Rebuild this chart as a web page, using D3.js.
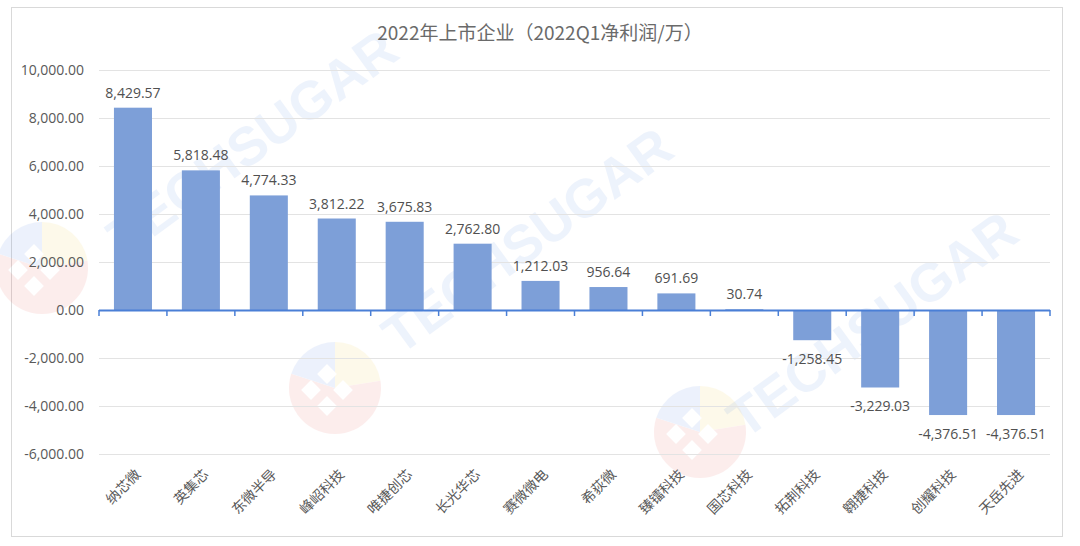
<!DOCTYPE html>
<html><head><meta charset="utf-8">
<script src="https://cdn.jsdelivr.net/npm/d3@7"></script>
<style>
html,body{margin:0;padding:0;background:#fff;}
svg{display:block;}
</style></head>
<body>
<svg id="chart" width="1080" height="546"></svg>
<script>
const title = "2022年上市企业（2022Q1净利润/万）";
const categories = ["纳芯微","英集芯","东微半导","峰岹科技","唯捷创芯","长光华芯","赛微微电","希荻微","臻镭科技","国芯科技","拓荆科技","翱捷科技","创耀科技","天岳先进"];
const values = [8429.57,5818.48,4774.33,3812.22,3675.83,2762.80,1212.03,956.64,691.69,30.74,-1258.45,-3229.03,-4376.51,-4376.51];
const yTicks = [-6000,-4000,-2000,0,2000,4000,6000,8000,10000];
const watermarkText = "TECHSUGAR";

const svg = d3.select("#chart");
const locale = d3.formatLocale({decimal:".",thousands:",",grouping:[3],currency:["",""],minus:"-"});
const fmt = locale.format(",.2f");
const font = "'Open Sans','Noto Sans CJK SC',sans-serif";
const cjk = "'Noto Sans CJK SC','Open Sans',sans-serif";

// chart frame
svg.append("rect").attr("x",11.5).attr("y",7.5).attr("width",1051).attr("height",529)
  .attr("fill","#fff").attr("stroke","#d9d9d9");

const x = d3.scaleBand().domain(categories).range([99,1050]).paddingInner(0.44).paddingOuter(0.22);
const y = d3.scaleLinear().domain([-6000,10000]).range([454,70]);

// watermarks
const wm = svg.append("g").attr("pointer-events","none");
const logos = [[42,268],[335,388],[700,432]];
logos.forEach(([cx,cy])=>{
  const g = wm.append("g").attr("transform",`translate(${cx},${cy})`).attr("opacity",0.09);
  const arc = d3.arc().innerRadius(0).outerRadius(46);
  g.append("path").attr("d",arc({startAngle:Math.PI*1.0,endAngle:Math.PI*1.6})).attr("fill","#e8403a");
  g.append("path").attr("d",arc({startAngle:Math.PI*1.6,endAngle:Math.PI*2.0})).attr("fill","#3b73e0");
  g.append("path").attr("d",arc({startAngle:Math.PI*0.0,endAngle:Math.PI*0.45})).attr("fill","#f3c623");
  g.append("path").attr("d",arc({startAngle:Math.PI*0.45,endAngle:Math.PI*1.0})).attr("fill","#e8403a");
  [[-8,-14],[8,2],[-8,18],[-24,2]].forEach(([dx,dy])=>{
    g.append("rect").attr("x",dx-7).attr("y",dy-7).attr("width",14).attr("height",14)
      .attr("transform",`rotate(45 ${dx} ${dy})`).attr("fill","#fff").attr("opacity",1);
  });
});
[[125,258],[400,356],[745,440]].forEach(([wx,wy])=>{
  wm.append("text").attr("transform",`translate(${wx},${wy}) rotate(-36)`)
    .attr("font-family","'Liberation Sans',Arial,sans-serif").attr("font-weight","bold")
    .attr("font-size",54).attr("fill","#5b8fe6").attr("opacity",0.1).text(watermarkText);
});

// title
svg.append("text").attr("x",540).attr("y",40).attr("text-anchor","middle")
  .attr("font-family",cjk).attr("font-size",19).attr("fill","#6a6a6a").text(title);

// grid
svg.append("g").selectAll("line").data(yTicks.filter(d=>d!==0)).join("line")
  .attr("x1",99).attr("x2",1050).attr("y1",d=>y(d)+0.5).attr("y2",d=>y(d)+0.5)
  .attr("stroke","#e3e3e3").attr("stroke-width",1);

// y axis labels
const yAxis = d3.axisLeft(y).tickValues(yTicks).tickFormat(fmt).tickSize(0).tickPadding(0);
const ya = svg.append("g").attr("transform","translate(84,0)").call(yAxis);
ya.select(".domain").remove();
ya.selectAll("text").attr("font-family",font).attr("font-size",14).attr("fill","#595959");

// bars
svg.append("g").selectAll("rect").data(values).join("rect")
  .attr("x",(d,i)=>x(categories[i])).attr("width",x.bandwidth())
  .attr("y",d=>y(Math.max(0,d))).attr("height",d=>Math.abs(y(d)-y(0)))
  .attr("fill","#7d9fd8");

// zero axis with band-boundary ticks
const za = svg.append("g");
za.append("line").attr("x1",99).attr("x2",1050).attr("y1",y(0)+0.5).attr("y2",y(0)+0.5)
  .attr("stroke","#4a7fd6").attr("stroke-width",1.8);
const step = x.step();
za.selectAll("line.t").data(d3.range(categories.length+1)).join("line").attr("class","t")
  .attr("x1",i=>99+i*step).attr("x2",i=>99+i*step)
  .attr("y1",y(0)).attr("y2",y(0)+6).attr("stroke","#4a7fd6").attr("stroke-width",1.5);

// data labels
svg.append("g").selectAll("text").data(values).join("text")
  .attr("x",(d,i)=>x(categories[i])+x.bandwidth()/2)
  .attr("y",d=>d>=0 ? y(d)-10 : y(d)+24)
  .attr("text-anchor","middle").attr("font-family",font).attr("font-size",14)
  .attr("fill","#505050").text(d=>fmt(d));

// x labels
svg.append("g").selectAll("text").data(categories).join("text")
  .attr("transform",d=>`translate(${x(d)+x.bandwidth()/2+5},${472}) rotate(-45)`)
  .attr("text-anchor","end").attr("dy","0.35em")
  .attr("font-family",cjk).attr("font-size",14).attr("fill","#595959").text(d=>d);
</script>
</body></html>
